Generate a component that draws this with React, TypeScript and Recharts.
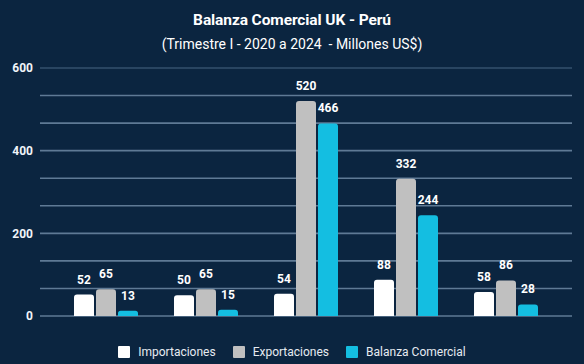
import React from 'react';
import { BarChart, Bar, XAxis, YAxis, CartesianGrid, LabelList, Legend } from 'recharts';

const categories = ['2020', '2021', '2022', '2023', '2024'];
const importaciones = [52, 50, 54, 88, 58];
const exportaciones = [65, 65, 520, 332, 86];
const balanza = [13, 15, 466, 244, 28];
const yTicks = [0, 200, 400, 600];
const gridValues = [0, 66.67, 133.33, 200, 266.67, 333.33, 400, 466.67, 533.33, 600];

const series = [
  { key: 'importaciones', name: 'Importaciones', color: '#ffffff' },
  { key: 'exportaciones', name: 'Exportaciones', color: '#c0c0c0' },
  { key: 'balanza', name: 'Balanza Comercial', color: '#14bee1' },
];

const data = categories.map((c, i) => ({
  name: c,
  importaciones: importaciones[i],
  exportaciones: exportaciones[i],
  balanza: balanza[i],
}));

const BG = '#0b2540';
const FONT = 'Roboto, "Noto Sans", sans-serif';

const renderGridLine = (props: any) => {
  const { x1, x2, y1, y2, index } = props;
  const isTop = index === gridValues.length - 1;
  return (
    <line
      key={`g-${index}`}
      x1={x1}
      x2={x2}
      y1={y1}
      y2={y2}
      stroke={isTop ? '#34506d' : '#5f7a95'}
      strokeWidth={isTop ? 1.5 : 1.6}
    />
  );
};

const LegendContent = () => (
  <div
    style={{
      height: 24,
      display: 'flex',
      justifyContent: 'center',
      alignItems: 'center',
      fontFamily: FONT,
      fontSize: 12,
      color: '#e6ebf1',
    }}
  >
    {series.map((s, i) => (
      <div
        key={s.key}
        style={{ display: 'flex', alignItems: 'center', marginRight: i < series.length - 1 ? 17 : 0 }}
      >
        <span style={{ width: 12, height: 12, background: s.color, display: 'inline-block', marginRight: 8, borderRadius: 1 }} />
        <span>{s.name}</span>
      </div>
    ))}
  </div>
);

export default function App() {
  return (
    <div
      style={{
        position: 'fixed',
        top: 0,
        left: 0,
        width: 584,
        height: 364,
        background: BG,
        fontFamily: FONT,
        overflow: 'hidden',
      }}
    >
      <div
        style={{
          position: 'absolute',
          top: 11.5,
          left: 0,
          width: 584,
          textAlign: 'center',
          color: '#ffffff',
          fontWeight: 'bold',
          fontSize: 15.5,
          lineHeight: '16px',
          letterSpacing: -0.1,
        }}
      >
        Balanza Comercial UK - Perú
      </div>
      <div
        style={{
          position: 'absolute',
          top: 36.5,
          left: 0,
          width: 584,
          textAlign: 'center',
          color: '#ffffff',
          fontSize: 14,
          lineHeight: '14px',
          whiteSpace: 'pre',
        }}
      >
        {'(Trimestre I - 2020 a 2024  - Millones US$)'}
      </div>
      <BarChart
        width={584}
        height={364}
        data={data}
        margin={{ top: 68, right: 12, left: 0, bottom: 0 }}
        barSize={20}
        barGap={2}
      >
        <CartesianGrid
          vertical={false}
          horizontalValues={gridValues}
          horizontal={renderGridLine}
        />
        <XAxis
          dataKey="name"
          tick={false}
          tickLine={false}
          axisLine={false}
          height={24}
          padding={{ left: 16, right: 16 }}
        />
        <YAxis
          domain={[0, 600]}
          ticks={yTicks}
          axisLine={false}
          tickLine={false}
          width={40}
          tickSize={5}
          tickMargin={2}
          tick={{ fill: '#f0f4f8', fontSize: 12, fontWeight: 'bold', fontFamily: FONT }}
        />
        <Legend verticalAlign="bottom" content={<LegendContent />} wrapperStyle={{ left: 0, width: 584 }} />
        {series.map((s) => (
          <Bar
            key={s.key}
            dataKey={s.key}
            name={s.name}
            fill={s.color}
            radius={[3, 3, 0, 0]}
            isAnimationActive={false}
          >
            <LabelList
              dataKey={s.key}
              position="top"
              offset={11}
              fill="#ffffff"
              fontSize={12}
              fontWeight="bold"
              fontFamily={FONT}
            />
          </Bar>
        ))}
      </BarChart>
    </div>
  );
}
